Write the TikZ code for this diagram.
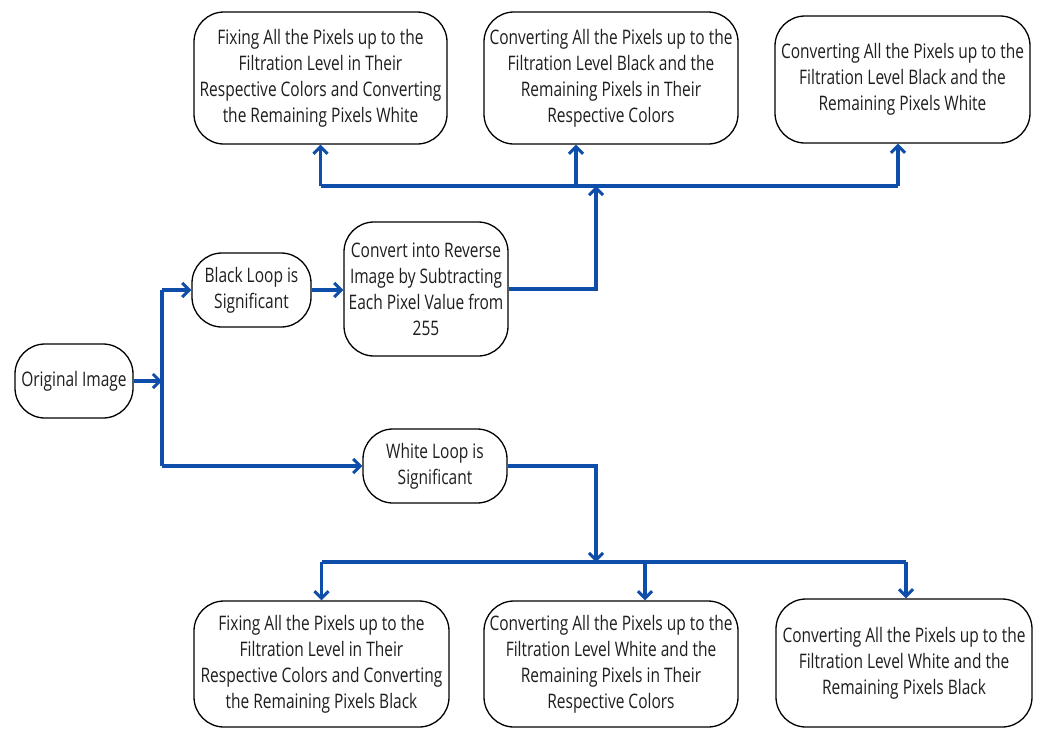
\documentclass[tikz,border=0pt]{standalone}
\usepackage{fontspec}
\setmainfont{Open Sans}[FakeStretch=0.775]
\usetikzlibrary{arrows.meta}
\definecolor{flowblue}{RGB}{14,78,170}
\definecolor{txt}{RGB}{30,30,30}
\begin{document}
\begin{tikzpicture}[x=1pt,y=-1pt,
  box/.style={draw=black, line width=1.3pt, rounded corners=30pt, align=center, inner sep=0pt,
    font=\fontsize{20}{26}\selectfont, text=txt},
  link/.style={draw=flowblue, line width=3.6pt},
  arr/.style={link, -{Straight Barb[length=7pt,width=14pt,line width=3pt]}}]
\useasboundingbox (0,0) rectangle (1044,729);
\fill[white] (0,0) rectangle (1044,729);
% nodes
\node[box, minimum width=253pt, minimum height=132pt] (top1) at (320.5,78) {Fixing All the Pixels up to the\\Filtration Level in Their\\Respective Colors and Converting\\the Remaining Pixels White};
\node[box, minimum width=254pt, minimum height=132pt] (top2) at (611,78) {Converting All the Pixels up to the\\Filtration Level Black and the\\Remaining Pixels in Their\\Respective Colors};
\node[box, minimum width=255pt, minimum height=127pt] (top3) at (902.5,79.5) {Converting All the Pixels up to the\\Filtration Level Black and the\\Remaining Pixels White};
\node[box, minimum width=118pt, minimum height=74pt] (orig) at (74,381) {Original Image};
\node[box, minimum width=119pt, minimum height=74pt] (black) at (251.5,290) {Black Loop is\\Significant};
\node[box, minimum width=164pt, minimum height=134pt] (conv) at (426,289) {Convert into Reverse\\Image by Subtracting\\Each Pixel Value from\\255};
\node[box, minimum width=144pt, minimum height=74pt] (white) at (435,466) {White Loop is\\Significant};
\node[box, minimum width=255pt, minimum height=126pt] (bot1) at (321.5,664) {Fixing All the Pixels up to the\\Filtration Level in Their\\Respective Colors and Converting\\the Remaining Pixels Black};
\node[box, minimum width=254pt, minimum height=126pt] (bot2) at (611,664) {Converting All the Pixels up to the\\Filtration Level White and the\\Remaining Pixels in Their\\Respective Colors};
\node[box, minimum width=256pt, minimum height=128pt] (bot3) at (904,663) {Converting All the Pixels up to the\\Filtration Level White and the\\Remaining Pixels Black};
% junction points
\coordinate (tA) at (162,290);
\coordinate (tM) at (162,381);
\coordinate (tB) at (162,466);
\coordinate (upT) at (596,186);
\coordinate (busL) at (320.5,186);
\coordinate (busM) at (576,186);
\coordinate (busR) at (898,186);
\coordinate (dnB) at (596,562);
\coordinate (bbL) at (321.5,562);
\coordinate (bbM) at (645,562);
\coordinate (bbR) at (906,562);
% connectors
\draw[arr] (orig.east) -- (tM);
\draw[link] (tA) -- (tB);
\draw[arr] (tA) -- (black.west);
\draw[arr] (tB) -- (white.west);
\draw[arr] (black.east) -- (conv.west |- black.east);
\draw[arr] (conv.east) -| (upT);
\draw[link] (busL) -- (busR);
\draw[arr] (busL) -- (top1.south);
\draw[arr] (busM) -- (top2.south -| busM);
\draw[arr] (busR) -- (top3.south -| busR);
\draw[arr] (white.east) -| (dnB);
\draw[link] (bbL) -- (bbR);
\draw[arr] (bbL) -- (bot1.north);
\draw[arr] (bbM) -- (bot2.north -| bbM);
\draw[arr] (bbR) -- (bot3.north -| bbR);
\end{tikzpicture}
\end{document}
